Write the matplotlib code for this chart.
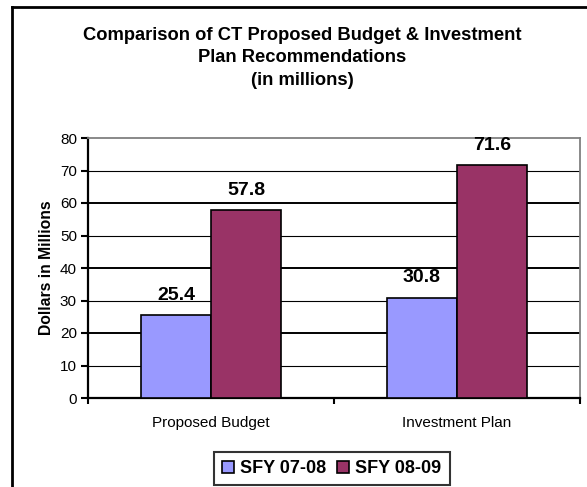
import numpy as np
import matplotlib.pyplot as plt
from matplotlib.lines import Line2D

plt.rcParams['font.family'] = ['Liberation Sans', 'DejaVu Sans']

# data
categories = ["Proposed Budget", "Investment Plan"]
sfy_0708 = [25.4, 30.8]
sfy_0809 = [57.8, 71.6]
series_names = ["SFY 07-08", "SFY 08-09"]
y_ticks = [0, 10, 20, 30, 40, 50, 60, 70, 80]

W, H = 587, 487
fig = plt.figure(figsize=(W / 100, H / 100), dpi=100)
ax = fig.add_axes([88 / W, 1 - 398 / H, (580 - 88) / W, (398 - 138) / H])

x = np.arange(len(categories))
bw = 0.285
ax.bar(x - bw / 2, sfy_0708, bw, color='#9999FF', edgecolor='black', linewidth=1.2,
       label=series_names[0], zorder=3)
ax.bar(x + bw / 2, sfy_0809, bw, color='#993366', edgecolor='black', linewidth=1.2,
       label=series_names[1], zorder=3)

# value labels above bars
for xs, vals in [(x - bw / 2, sfy_0708), (x + bw / 2, sfy_0809)]:
    for xi, v in zip(xs, vals):
        ax.annotate(f"{v}", (xi, v), xytext=(0, 14.4), textcoords='offset points',
                    ha='center', va='center', fontsize=14, fontweight='bold')

# horizontal grid lines, heavier every 20
for t in y_ticks[1:-1]:
    ax.axhline(t, color='black', lw=1.4 if t % 20 == 0 else 0.8, zorder=1)

ax.set_ylim(0, 80)
ax.set_xlim(-0.5, len(categories) - 0.5)
ax.set_yticks(y_ticks)
ax.tick_params(axis='y', labelsize=11, length=5, width=1.5, direction='out', pad=3)

ax.set_xticks(x)
ax.set_xticklabels(categories, fontsize=11)
ax.tick_params(axis='x', length=0, pad=13)
# category separators below the axis
ax.set_xticks(np.arange(len(categories) + 1) - 0.5, minor=True)
ax.tick_params(axis='x', which='minor', length=4, width=1.5, direction='out')

ax.spines['left'].set_linewidth(1.6)
ax.spines['bottom'].set_linewidth(1.6)
ax.spines['top'].set_color('#808080')
ax.spines['right'].set_color('#808080')
ax.spines['top'].set_linewidth(1.3)
ax.spines['right'].set_linewidth(1.3)

ax.set_ylabel("Dollars in Millions", fontsize=11.3, fontweight='bold', labelpad=4)

fig.text(302 / W, 1 - 58 / H,
         "Comparison of CT Proposed Budget & Investment\nPlan Recommendations\n(in millions)",
         ha='center', va='center', fontsize=13.2, fontweight='bold', linespacing=1.45)

leg = ax.legend(loc='center', bbox_to_anchor=(332 / W, 1 - 468.5 / H),
                bbox_transform=fig.transFigure, ncol=2, frameon=True, fancybox=False,
                prop={'weight': 'bold', 'size': 13}, handlelength=0.65, handleheight=0.65,
                handletextpad=0.35, columnspacing=0.6, borderpad=0.45, borderaxespad=0)
leg.get_frame().set_edgecolor('black')
leg.get_frame().set_linewidth(1.5)

# chart border (left and top edges)
fig.add_artist(Line2D([12 / W, 12 / W], [0, 1 - 7 / H], color='black', lw=2,
                      transform=fig.transFigure))
fig.add_artist(Line2D([12 / W, 1], [1 - 7 / H, 1 - 7 / H], color='black', lw=2,
                      transform=fig.transFigure))

fig.savefig("out.png", dpi=100)
